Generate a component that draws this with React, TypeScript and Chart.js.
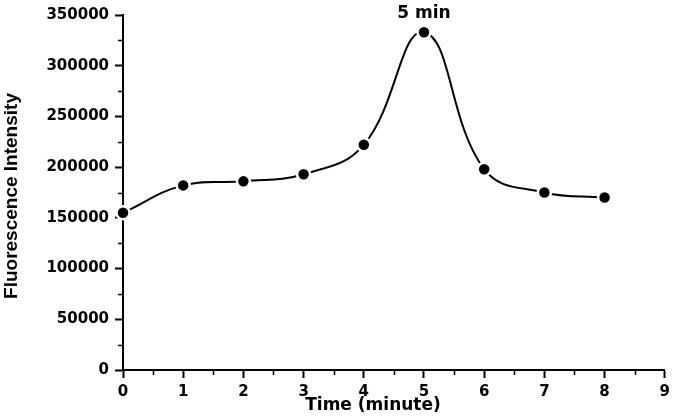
import React, { useEffect, useRef } from "react";
import { Chart, registerables } from "chart.js";

Chart.register(...registerables);

const times = [0, 1, 2, 3, 4, 5, 6, 7, 8];
const intensity = [155000, 182000, 186000, 193000, 222000, 333000, 198000, 175000, 170000];
const peakIndex = 5;
const peakLabel = "5 min";
const xTitle = "Time (minute)";
const yTitle = "Fluorescence Intensity";
const xMinorTicks = [0.5, 1.5, 2.5, 3.5, 4.5, 5.5, 6.5, 7.5, 8.5];
const yMinorTicks = [25000, 75000, 125000, 175000, 225000, 275000, 325000];

const extras = {
  id: "extras",
  afterDraw(chart: any) {
    const { ctx, scales } = chart;
    const x = scales.x;
    const y = scales.y;
    ctx.save();
    ctx.strokeStyle = "#000";
    ctx.lineWidth = 1.5;
    ctx.beginPath();
    for (const v of xMinorTicks) {
      const px = Math.round(x.getPixelForValue(v)) + 0.5;
      ctx.moveTo(px, x.top);
      ctx.lineTo(px, x.top + 5);
    }
    for (const v of yMinorTicks) {
      const py = Math.round(y.getPixelForValue(v)) + 0.5;
      ctx.moveTo(y.right - 5, py);
      ctx.lineTo(y.right, py);
    }
    ctx.stroke();
    ctx.fillStyle = "#000";
    ctx.textAlign = "center";
    ctx.textBaseline = "middle";
    ctx.font = 'bold 17px "DejaVu Sans"';
    ctx.fillText(xTitle, 373, 406);
    const pt = chart.getDatasetMeta(0).data[peakIndex];
    ctx.fillText(peakLabel, pt.x, pt.y - 19);
    ctx.save();
    ctx.translate(12, 196);
    ctx.rotate(-Math.PI / 2);
    ctx.font = 'bold 19px "Liberation Sans"';
    ctx.fillText(yTitle, 0, 0);
    ctx.restore();
    ctx.restore();
  },
};

export default function App() {
  const ref = useRef<HTMLCanvasElement>(null);
  useEffect(() => {
    document.body.style.margin = "0";
    const chart = new Chart(ref.current!, {
      type: "line",
      data: {
        datasets: [
          {
            data: times.map((t, i) => ({ x: t, y: intensity[i] })),
            borderColor: "#000",
            borderWidth: 2,
            tension: 0.42,
            pointRadius: 6.5,
            pointHoverRadius: 6.5,
            pointBackgroundColor: "#000",
            pointBorderColor: "#fff",
            pointBorderWidth: 2.5,
            clip: false as any,
          },
        ],
      },
      options: {
        animation: false,
        responsive: true,
        maintainAspectRatio: false,
        layout: { padding: { left: 0, top: 12, right: 8, bottom: 0 } },
        plugins: { legend: { display: false }, tooltip: { enabled: false } },
        scales: {
          x: {
            type: "linear",
            min: 0,
            max: 9,
            z: 1,
            afterFit: (s: any) => {
              s.height = 50;
            },
            grid: { drawOnChartArea: false, drawTicks: true, tickLength: 8, tickWidth: 2, tickColor: "#000" },
            border: { display: true, color: "#000", width: 2 },
            ticks: {
              stepSize: 1,
              padding: 5,
              color: "#000",
              font: { family: "DejaVu Sans", weight: "bold", size: 15 },
              maxRotation: 0,
            },
            title: { display: false, text: xTitle },
          },
          y: {
            type: "linear",
            min: 0,
            max: 350000,
            z: 1,
            afterFit: (s: any) => {
              s.width = 123;
            },
            grid: { drawOnChartArea: false, drawTicks: true, tickLength: 8, tickWidth: 2, tickColor: "#000" },
            border: { display: true, color: "#000", width: 2 },
            ticks: {
              stepSize: 50000,
              padding: 6,
              color: "#000",
              font: { family: "DejaVu Sans", weight: "bold", size: 15 },
              callback: (v: any) => String(v),
            },
            title: { display: false, text: yTitle },
          },
        },
      },
      plugins: [extras],
    });
    return () => chart.destroy();
  }, []);
  return (
    <div style={{ position: "fixed", left: 0, top: 0, width: 675, height: 420 }}>
      <canvas ref={ref} />
    </div>
  );
}
